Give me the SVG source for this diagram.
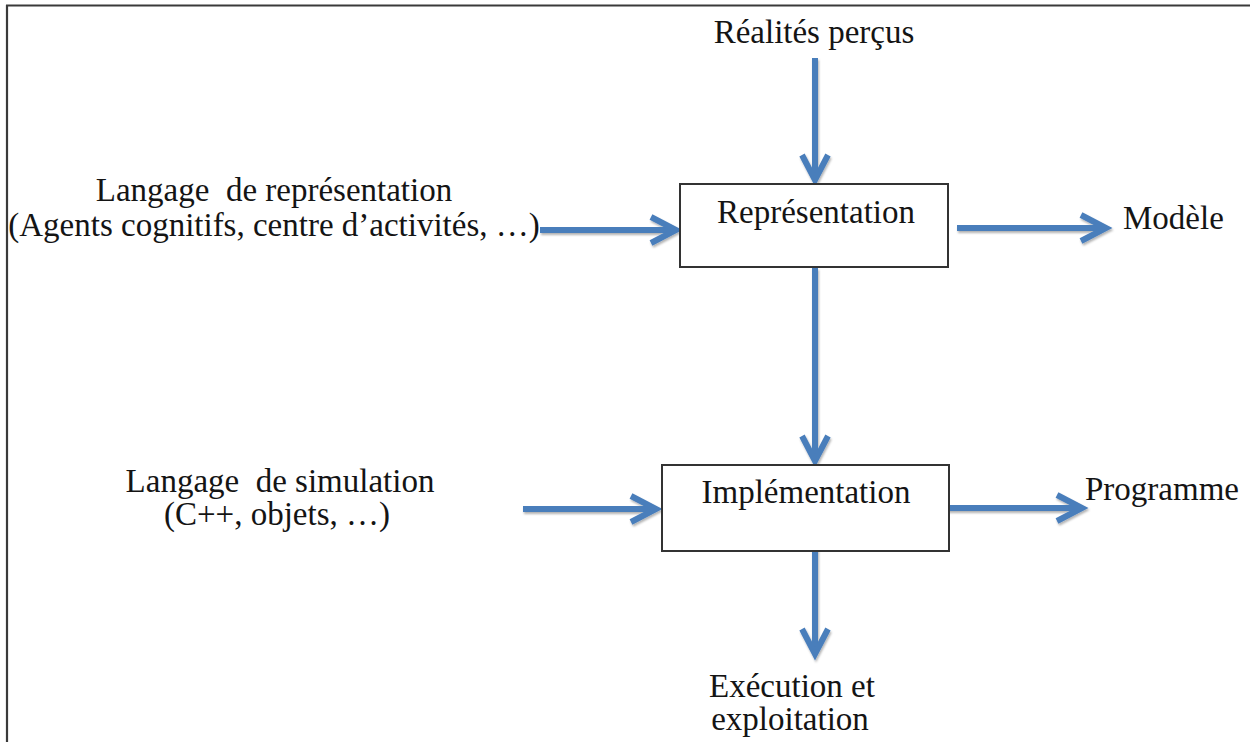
<svg xmlns="http://www.w3.org/2000/svg" width="1250" height="742" viewBox="0 0 1250 742">
  <style>
    .label { font-family: 'Liberation Serif', Tinos, 'Times New Roman', 'DejaVu Serif', serif; font-size: 33px; fill: #141414; }
    .mid { text-anchor: middle; }
    .box { fill: #ffffff; stroke: #333333; stroke-width: 2; }
    .frame { stroke: #3a3a3a; stroke-width: 2.2; fill: none; }
    .arrow { fill: none; stroke: #4a7ebb; stroke-width: 6; marker-end: url(#chevron); }
  </style>
  <defs>
    <!-- open chevron head, drawn at the line end -->
    <marker id="chevron" markerUnits="userSpaceOnUse" orient="auto" refX="0" refY="0" overflow="visible">
      <path d="M -25 -13 L 0 0 L -25 13" fill="none" stroke="#4a7ebb" stroke-width="6" stroke-linejoin="miter" stroke-linecap="butt"/>
    </marker>
    <filter id="shade" x="-10%" y="-10%" width="120%" height="120%">
      <feDropShadow dx="1" dy="2" stdDeviation="1" flood-color="#000000" flood-opacity="0.3"/>
    </filter>
  </defs>

  <rect width="1250" height="742" fill="#ffffff"/>

  <!-- page frame (top and left edges only) -->
  <path class="frame" d="M 6 5.5 L 1250 5.5 M 7 5 L 7 742"/>

  <!-- connectors -->
  <g id="connectors" filter="url(#shade)">
    <path class="arrow" d="M 815 58 L 815 180"/>
    <path class="arrow" d="M 540 230 L 676 230"/>
    <path class="arrow" d="M 957 228 L 1106 228"/>
    <path class="arrow" d="M 815 268 L 815 461"/>
    <path class="arrow" d="M 523 509 L 656 509"/>
    <path class="arrow" d="M 945 508 L 1082 508"/>
    <path class="arrow" d="M 815 545 L 815 654"/>
  </g>

  <g id="node-realites">
    <text class="label mid" font-family="Liberation Serif, serif" x="814" y="43">Réalités perçus</text>
  </g>

  <g id="node-langage-representation">
    <text class="label mid" font-family="Liberation Serif, serif" x="274" y="201" xml:space="preserve">Langage  de représentation</text>
    <text class="label mid" font-family="Liberation Serif, serif" x="274" y="236">(Agents cognitifs, centre d’activités, …)</text>
  </g>

  <g id="node-representation">
    <rect class="box" x="680" y="184" width="268" height="83"/>
    <text class="label mid" font-family="Liberation Serif, serif" x="816" y="223">Représentation</text>
  </g>

  <g id="node-modele">
    <text class="label" font-family="Liberation Serif, serif" x="1123" y="229">Modèle</text>
  </g>

  <g id="node-langage-simulation">
    <text class="label mid" font-family="Liberation Serif, serif" x="280" y="492" xml:space="preserve">Langage  de simulation</text>
    <text class="label mid" font-family="Liberation Serif, serif" x="277" y="525">(C++, objets, …)</text>
  </g>

  <g id="node-implementation">
    <rect class="box" x="662" y="465" width="287" height="86"/>
    <text class="label mid" font-family="Liberation Serif, serif" x="806" y="503">Implémentation</text>
  </g>

  <g id="node-programme">
    <text class="label" font-family="Liberation Serif, serif" x="1085" y="500">Programme</text>
  </g>

  <g id="node-execution">
    <text class="label mid" font-family="Liberation Serif, serif" x="792" y="697">Exécution et</text>
    <text class="label mid" font-family="Liberation Serif, serif" x="790" y="730">exploitation</text>
  </g>
</svg>
